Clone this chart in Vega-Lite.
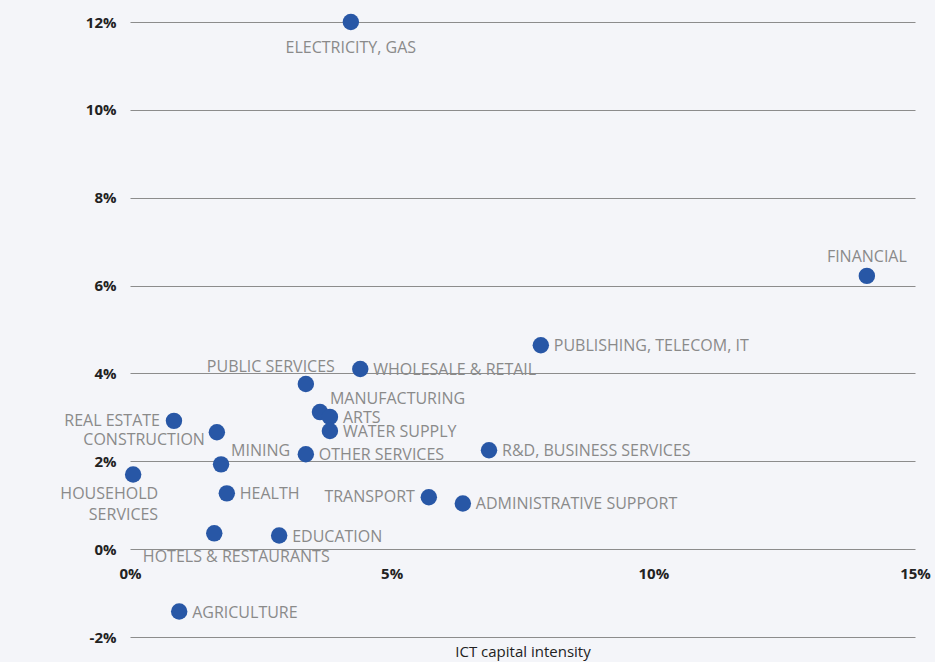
{
  "$schema": "https://vega.github.io/schema/vega-lite/v6.json",
  "width": 785,
  "height": 615,
  "autosize": "none",
  "padding": {"left": 130, "top": 22, "right": 20, "bottom": 25},
  "background": "#f4f5f9",
  "config": {
    "view": {"stroke": null},
    "font": "Open Sans",
    "text": {"font": "Open Sans", "fontSize": 16, "color": "#8a8a8a", "baseline": "middle"}
  },
  "data": {"values": [
    {"sector": "ELECTRICITY, GAS", "x": 4.22, "y": 12.0},
    {"sector": "FINANCIAL", "x": 14.08, "y": 6.22},
    {"sector": "PUBLISHING, TELECOM, IT", "x": 7.85, "y": 4.64},
    {"sector": "WHOLESALE & RETAIL", "x": 4.40, "y": 4.10},
    {"sector": "PUBLIC SERVICES", "x": 3.36, "y": 3.76},
    {"sector": "MANUFACTURING", "x": 3.63, "y": 3.12},
    {"sector": "ARTS", "x": 3.82, "y": 3.01},
    {"sector": "WATER SUPPLY", "x": 3.82, "y": 2.69},
    {"sector": "OTHER SERVICES", "x": 3.36, "y": 2.16},
    {"sector": "R&D, BUSINESS SERVICES", "x": 6.86, "y": 2.25},
    {"sector": "TRANSPORT", "x": 5.71, "y": 1.18},
    {"sector": "ADMINISTRATIVE SUPPORT", "x": 6.36, "y": 1.04},
    {"sector": "REAL ESTATE", "x": 0.84, "y": 2.92},
    {"sector": "CONSTRUCTION", "x": 1.66, "y": 2.66},
    {"sector": "MINING", "x": 1.74, "y": 1.93},
    {"sector": "HEALTH", "x": 1.85, "y": 1.27},
    {"sector": "HOUSEHOLD\nSERVICES", "x": 0.06, "y": 1.70},
    {"sector": "HOTELS & RESTAURANTS", "x": 1.61, "y": 0.36},
    {"sector": "EDUCATION", "x": 2.85, "y": 0.31},
    {"sector": "AGRICULTURE", "x": 0.94, "y": -1.42}
  ]},
  "encoding": {
    "x": {
      "field": "x", "type": "quantitative",
      "scale": {"domain": [0, 15], "nice": false, "zero": false},
      "axis": {
        "values": [0, 5, 10, 15], "labelExpr": "datum.value + '%'",
        "grid": false, "domain": false, "ticks": false, "offset": -86,
        "labelFlush": false, "labelPadding": 15, "labelFont": "Open Sans", "labelFontSize": 15,
        "labelFontWeight": "bold", "labelColor": "#222222",
        "title": "ICT capital intensity", "titleY": 100, "titleBaseline": "middle",
        "titleFont": "Open Sans", "titleFontSize": 15, "titleFontWeight": "normal", "titleColor": "#222222"
      }
    },
    "y": {
      "field": "y", "type": "quantitative",
      "scale": {"domain": [-2, 12], "nice": false, "zero": false},
      "axis": {
        "values": [-2, 0, 2, 4, 6, 8, 10, 12], "labelExpr": "datum.value + '%'",
        "grid": true, "gridColor": "#8c8c8c", "gridWidth": 1.2, "gridOpacity": 1,
        "domain": false, "ticks": false, "labelPadding": 14,
        "labelFont": "Open Sans", "labelFontSize": 15, "labelFontWeight": "bold", "labelColor": "#222222",
        "title": null
      }
    }
  },
  "layer": [
    {"mark": {"type": "circle", "size": 270, "color": "#2857a6", "opacity": 1}},
    {"transform": [{"filter": {"field": "sector", "oneOf": ["PUBLISHING, TELECOM, IT", "WHOLESALE & RETAIL", "ARTS", "WATER SUPPLY", "OTHER SERVICES", "R&D, BUSINESS SERVICES", "ADMINISTRATIVE SUPPORT", "HEALTH", "EDUCATION", "AGRICULTURE"]}}],
     "mark": {"type": "text", "align": "left", "dx": 13, "dy": 1},
     "encoding": {"text": {"field": "sector"}}},
    {"transform": [{"filter": {"field": "sector", "oneOf": ["TRANSPORT", "REAL ESTATE"]}}],
     "mark": {"type": "text", "align": "right", "dx": -14, "dy": 0},
     "encoding": {"text": {"field": "sector"}}},
    {"transform": [{"filter": {"field": "sector", "equal": "CONSTRUCTION"}}],
     "mark": {"type": "text", "align": "right", "dx": -12, "dy": 8},
     "encoding": {"text": {"field": "sector"}}},
    {"transform": [{"filter": {"field": "sector", "equal": "FINANCIAL"}}],
     "mark": {"type": "text", "align": "center", "dx": 0, "dy": -19},
     "encoding": {"text": {"field": "sector"}}},
    {"transform": [{"filter": {"field": "sector", "equal": "ELECTRICITY, GAS"}}],
     "mark": {"type": "text", "align": "center", "dx": 0, "dy": 26},
     "encoding": {"text": {"field": "sector"}}},
    {"transform": [{"filter": {"field": "sector", "equal": "PUBLIC SERVICES"}}],
     "mark": {"type": "text", "align": "right", "dx": 29, "dy": -17},
     "encoding": {"text": {"field": "sector"}}},
    {"transform": [{"filter": {"field": "sector", "oneOf": ["MANUFACTURING", "MINING"]}}],
     "mark": {"type": "text", "align": "left", "dx": 10, "dy": -13},
     "encoding": {"text": {"field": "sector"}}},
    {"transform": [{"filter": {"field": "sector", "equal": "HOUSEHOLD\nSERVICES"}}],
     "mark": {"type": "text", "align": "right", "dx": 25, "dy": 20, "lineBreak": "\n", "lineHeight": 21},
     "encoding": {"text": {"field": "sector"}}},
    {"transform": [{"filter": {"field": "sector", "equal": "HOTELS & RESTAURANTS"}}],
     "mark": {"type": "text", "align": "center", "dx": 22, "dy": 24},
     "encoding": {"text": {"field": "sector"}}}
  ]
}
